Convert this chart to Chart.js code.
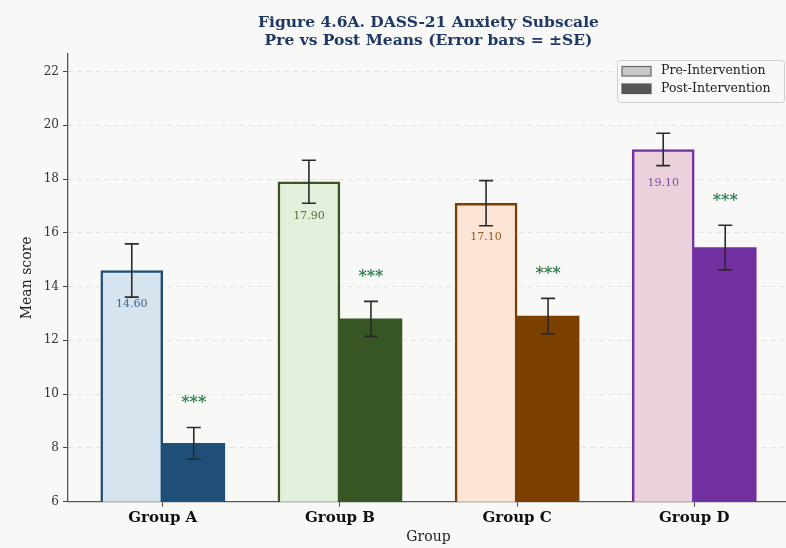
<!DOCTYPE html>
<html>
<head>
<meta charset="utf-8">
<script src="https://cdn.jsdelivr.net/npm/chart.js@4/dist/chart.umd.min.js"></script>
<style>
  html, body { margin: 0; padding: 0; background: #f8f8f6; overflow: hidden; width: 786px; height: 548px; }
  #wrap { position: relative; width: 800px; height: 548px; }
</style>
</head>
<body>
<div id="wrap"><canvas id="c" width="800" height="548"></canvas></div>
<script>
// ---- data ----
const categories = ['Group A', 'Group B', 'Group C', 'Group D'];
const preMeans  = [14.60, 17.90, 17.10, 19.10];
const postMeans = [8.17, 12.80, 12.90, 15.45];
const preSE     = [0.99, 0.80, 0.84, 0.60];
const postSE    = [0.59, 0.65, 0.66, 0.83];
const sigMarks  = ['***', '***', '***', '***'];
const yTicks    = [6, 8, 10, 12, 14, 16, 18, 20, 22];
const seriesNames = ['Pre-Intervention', 'Post-Intervention'];

// ---- styles ----
const preFill  = ['#d6e4f0', '#e2efda', '#fce4d6', '#ead1dc'];
const edgeCol  = ['#1f4e79', '#375623', '#7b3f00', '#7030a0'];
const postFill = ['#1f4e79', '#375623', '#7b3f00', '#7030a0'];
const SERIF = "'DejaVu Serif', serif";
const BAR_W = 0.35;

const preData  = preMeans.map((v, i) => ({ x: i - BAR_W / 2, y: v }));
const postData = postMeans.map((v, i) => ({ x: i + BAR_W / 2, y: v }));

const overlay = {
  id: 'overlay',
  beforeDraw(chart) {
    const ctx = chart.ctx;
    ctx.save();
    ctx.fillStyle = '#f8f8f6';
    ctx.fillRect(0, 0, chart.width, chart.height);
    ctx.restore();
  },
  afterDatasetsDraw(chart) {
    const ctx = chart.ctx;
    const ys = chart.scales.y;
    chart.data.datasets.forEach((ds, di) => {
      const meta = chart.getDatasetMeta(di);
      meta.data.forEach((bar, i) => {
        const v = ds.data[i].y, se = ds.se[i];
        const yt = ys.getPixelForValue(v + se);
        const yb = ys.getPixelForValue(v - se);
        ctx.save();
        ctx.strokeStyle = '#2b2b2b';
        ctx.lineWidth = 1.6;
        ctx.beginPath();
        ctx.moveTo(bar.x, yt); ctx.lineTo(bar.x, yb);
        ctx.moveTo(bar.x - 7, yt); ctx.lineTo(bar.x + 7, yt);
        ctx.moveTo(bar.x - 7, yb); ctx.lineTo(bar.x + 7, yb);
        ctx.stroke();
        ctx.textAlign = 'center';
        ctx.textBaseline = 'alphabetic';
        if (di === 0) {
          ctx.globalAlpha = 0.85;
          ctx.fillStyle = edgeCol[i];
          ctx.font = '11px ' + SERIF;
          ctx.fillText(v.toFixed(2), bar.x, bar.y + 37);
        } else {
          ctx.fillStyle = '#2e7d4f';
          ctx.font = 'bold 16px ' + SERIF;
          ctx.fillText(sigMarks[i], bar.x, yt - 20);
        }
        ctx.restore();
      });
    });
  },
  afterDraw(chart) {
    const ctx = chart.ctx;
    const ca = chart.chartArea;
    // title
    ctx.save();
    const cx = (ca.left + ca.right) / 2;
    ctx.fillStyle = '#1f3864';
    ctx.font = 'bold 15.5px ' + SERIF;
    ctx.textAlign = 'center';
    ctx.textBaseline = 'middle';
    ctx.fillText('Figure 4.6A. DASS-21 Anxiety Subscale', cx, 23);
    ctx.fillText('Pre vs Post Means (Error bars = \u00B1SE)', cx, 41);
    ctx.restore();
    // legend
    ctx.save();
    const bx = ca.right - 172, by = ca.top + 6, bw = 167, bh = 42;
    ctx.fillStyle = 'rgba(248,248,246,0.85)';
    ctx.strokeStyle = '#cfcfcf';
    ctx.lineWidth = 1;
    ctx.beginPath();
    ctx.roundRect(bx + 0.5, by + 0.5, bw, bh, 3);
    ctx.fill(); ctx.stroke();
    const items = [
      { fill: '#c8c8c8', stroke: '#666666' },
      { fill: '#555555', stroke: '#555555' }
    ];
    ctx.font = '12.5px ' + SERIF;
    ctx.textBaseline = 'middle';
    items.forEach((it, k) => {
      const ry = by + 11 + k * 17.5;
      ctx.fillStyle = it.fill;
      ctx.strokeStyle = it.stroke;
      ctx.lineWidth = 1.2;
      ctx.fillRect(bx + 5, ry - 4.5, 29, 9.5);
      ctx.strokeRect(bx + 5, ry - 4.5, 29, 9.5);
      ctx.fillStyle = '#222';
      ctx.fillText(seriesNames[k], bx + 44, ry);
    });
    ctx.restore();
  }
};

new Chart(document.getElementById('c'), {
  type: 'bar',
  data: {
    datasets: [
      { label: seriesNames[0], data: preData, se: preSE, backgroundColor: preFill, borderColor: edgeCol, borderWidth: 2.5, borderSkipped: 'start' },
      { label: seriesNames[1], data: postData, se: postSE, backgroundColor: postFill, borderColor: postFill, borderWidth: 0 }
    ]
  },
  options: {
    responsive: false,
    animation: false,
    devicePixelRatio: 1,
    layout: { padding: { left: 0, right: 11, top: 54, bottom: 0 } },
    datasets: { bar: { grouped: false, categoryPercentage: 1, barPercentage: 1 } },
    plugins: { legend: { display: false }, title: { display: false }, tooltip: { enabled: false } },
    scales: {
      x: {
        type: 'linear',
        offset: false,
        min: -0.535, max: 3.535,
        afterBuildTicks: s => { s.ticks = categories.map((_, i) => ({ value: i })); },
        afterFit: s => { s.height = 46.3; },
        ticks: {
          callback: v => categories[Math.round(v)],
          font: { family: SERIF, size: 15, weight: 'bold' },
          color: '#111',
          padding: 2,
          maxRotation: 0
        },
        grid: { offset: false, drawOnChartArea: false, drawTicks: true, tickLength: 5, tickColor: '#444' },
        border: { color: '#555', width: 1.3 },
        title: { display: true, text: 'Group', font: { family: SERIF, size: 14 }, color: '#222', padding: { top: 2, bottom: 2.5 } }
      },
      y: {
        min: 6, max: 22.65,
        afterBuildTicks: s => { s.ticks = yTicks.map(v => ({ value: v })); },
        afterFit: s => { s.width = 68; },
        ticks: { font: { family: SERIF, size: 12 }, color: '#333', padding: 4 },
        grid: { color: '#e2e2e2', lineWidth: 1, tickLength: 5, tickColor: '#444', tickBorderDash: [] },
        border: { color: '#555', width: 1.3, dash: [5, 4] },
        title: { display: true, text: 'Mean score', font: { family: SERIF, size: 14 }, color: '#222', padding: { top: 18.6, bottom: 4 } }
      }
    }
  },
  plugins: [overlay]
});
</script>
</body>
</html>
